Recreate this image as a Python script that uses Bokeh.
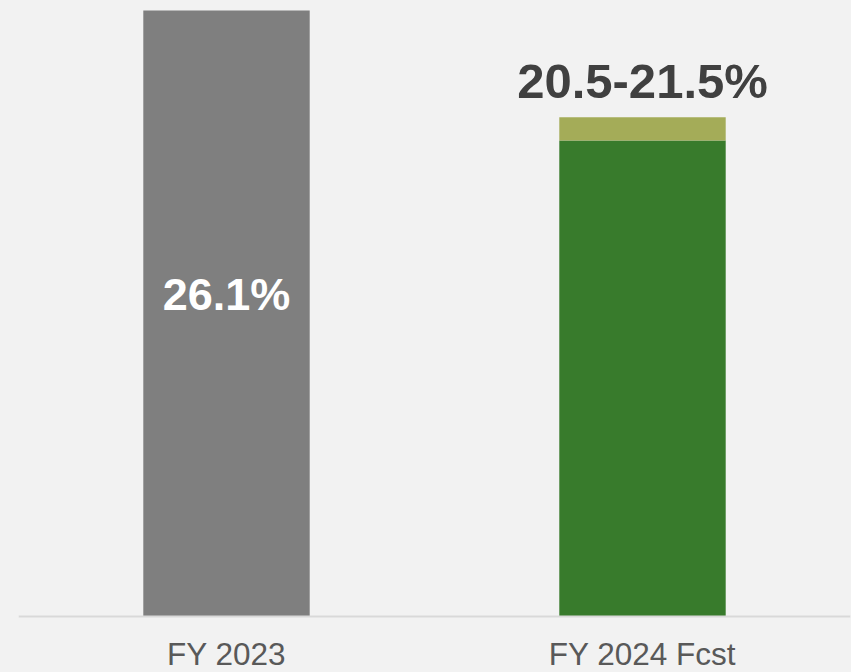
from bokeh.plotting import figure
from bokeh.models import FactorRange, Range1d, CategoricalAxis, ColumnDataSource
from bokeh.core.properties import value
from bokeh.embed import file_html
from bokeh.resources import INLINE

# ---- data ----
categories = ["FY 2023", "FY 2024 Fcst"]
base_values = [26.1, 20.5]        # actual / low end of forecast
upper_values = [26.1, 21.5]       # high end of forecast range
inside_labels = ["26.1%", ""]
top_labels = ["", "20.5-21.5%"]
base_colors = ["#7F7F7F", "#387B2C"]
range_color = "#A4AC58"

BG = "#F2F2F2"
FONT = "Liberation Sans"

p = figure(
    width=851, height=672,
    x_range=FactorRange(factors=categories, range_padding=0),
    y_range=Range1d(-2.412, 26.531),
    x_axis_location=None, y_axis_location=None,
    output_backend="svg", toolbar_location=None,
    min_border_left=18, min_border_right=1, min_border_top=0, min_border_bottom=0,
    background_fill_color=BG, border_fill_color=BG,
)
p.outline_line_color = None
p.xgrid.visible = False
p.ygrid.visible = False

src = ColumnDataSource(dict(
    cat=categories, base=base_values, upper=upper_values,
    color=base_colors, inside=inside_labels, top=top_labels,
    mid=[v / 2 for v in base_values],
))

p.vbar(x="cat", top="base", bottom=0, width=0.4, fill_color="color",
       line_color=None, source=src)
p.vbar(x="cat", top="upper", bottom="base", width=0.4, fill_color=range_color,
       line_color=None, source=src)

p.text(x="cat", y="mid", text="inside", source=src,
       text_font=value(FONT), text_font_style="bold", text_font_size="45px",
       text_color="white", text_align="center", text_baseline="middle", y_offset=-19)
p.text(x="cat", y="upper", text="top", source=src,
       text_font=value(FONT), text_font_style="bold", text_font_size="49px",
       text_color="#404040", text_align="center", text_baseline="middle", y_offset=-36)

xaxis = CategoricalAxis(fixed_location=0)
xaxis.axis_line_color = "#D9D9D9"
xaxis.axis_line_width = 2
xaxis.major_tick_line_color = None
xaxis.major_tick_in = 0
xaxis.major_tick_out = 0
xaxis.minor_tick_line_color = None
xaxis.major_label_standoff = 20
xaxis.major_label_text_font = FONT
xaxis.major_label_text_font_size = "31.5px"
xaxis.major_label_text_color = "#595959"
p.add_layout(xaxis, "below")

html = None
try:
    from bokeh.core.templates import FILE
    tmpl = FILE.environment.from_string(
        '{% extends "file.html" %}{% block preamble %}{{ super() }}'
        '<style>html, body { background: #F2F2F2; }</style>{% endblock %}'
    )
    html = file_html(p, INLINE, template=tmpl)
except Exception:
    html = file_html(p, INLINE)

open("out.html", "w").write(html)
